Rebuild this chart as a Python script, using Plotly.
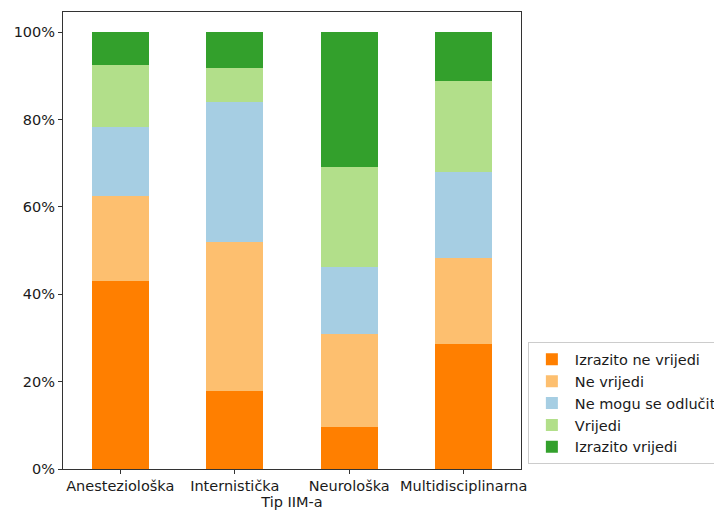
import plotly.graph_objects as go

categories = ["Anesteziološka", "Internistička", "Neurološka", "Multidisciplinarna"]
series_names = ["Izrazito ne vrijedi", "Ne vrijedi", "Ne mogu se odlučiti", "Vrijedi", "Izrazito vrijedi"]
izrazito_ne_vrijedi = [43.0, 17.9, 9.7, 28.5]
ne_vrijedi = [19.5, 34.1, 21.1, 19.7]
ne_mogu = [15.7, 32.0, 15.4, 19.8]
vrijedi = [14.3, 7.8, 22.9, 20.8]
izrazito_vrijedi = [7.5, 8.2, 30.9, 11.2]
colors = ["#ff7f00", "#fdbf6f", "#a6cee3", "#b2df8a", "#33a02c"]
y_ticks = [0, 20, 40, 60, 80, 100]
y_tick_labels = [f"{v}%" for v in y_ticks]

series_values = [izrazito_ne_vrijedi, ne_vrijedi, ne_mogu, vrijedi, izrazito_vrijedi]

FONT = "DejaVu Sans"
TXT = "#1a1a1a"
fig = go.Figure()
for name, vals, col in zip(series_names, series_values, colors):
    fig.add_trace(go.Bar(x=categories, y=vals, name=name, marker=dict(color=col, line=dict(width=0)),
                         width=0.5))

fig.update_layout(
    barmode="stack",
    width=722, height=510,
    margin=dict(l=55, r=209, t=4, b=49, autoexpand=False),
    plot_bgcolor="white", paper_bgcolor="white",
    font=dict(family=FONT, size=14.5, color=TXT),
    showlegend=True,
    legend=dict(x=1.015, y=0.277, xanchor="left", yanchor="top",
                bordercolor="#cccccc", borderwidth=1, bgcolor="white",
                font=dict(family=FONT, size=14.5, color=TXT),
                traceorder="normal", itemwidth=36),
    xaxis=dict(range=[-0.5, 3.5], showline=True, linecolor="#333333", linewidth=1, mirror=True,
               ticks="outside", ticklen=4, tickcolor="#333333", showgrid=False, automargin=False,
               title=dict(text="Tip IIM-a", standoff=2, font=dict(family=FONT, size=14.5))),
    yaxis=dict(range=[0, 104.6], showline=True, linecolor="#333333", linewidth=1, mirror=True,
               ticks="outside", ticklen=4, tickcolor="#333333", showgrid=False, zeroline=False,
               automargin=False, tickmode="array", tickvals=y_ticks, ticktext=y_tick_labels),
)

fig.write_html("out.html")
